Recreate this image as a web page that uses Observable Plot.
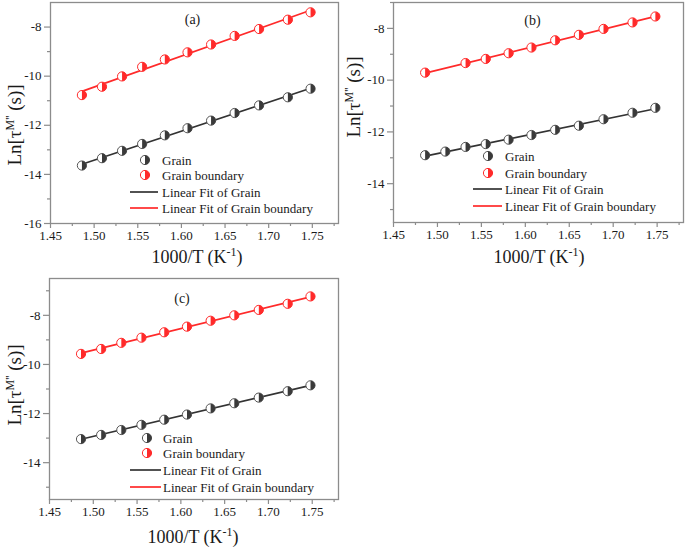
<!DOCTYPE html>
<html><head><meta charset="utf-8">
<script src="https://cdn.jsdelivr.net/npm/d3@7"></script>
<script src="https://cdn.jsdelivr.net/npm/@observablehq/plot@0.6"></script>
<style>
body{margin:0;background:#fff;}
#root{position:relative;width:685px;height:549px;overflow:hidden;background:#fff;font-family:"Liberation Serif","Times New Roman",serif;}
.panel{position:absolute}
.panel text{font-family:"Liberation Serif","Times New Roman",serif !important;}
#overlay{position:absolute;left:0;top:0;pointer-events:none}
</style></head><body><div id="root"></div>
<script>
// ---- data ----
const invT = [1.486, 1.509, 1.532, 1.555, 1.581, 1.607, 1.634, 1.661, 1.689, 1.722, 1.748];
const invT_bGB = [1.486, 1.532, 1.555, 1.581, 1.607, 1.634, 1.661, 1.689, 1.722, 1.748];

const aGrain = [-13.64, -13.34, -13.04, -12.76, -12.41, -12.12, -11.81, -11.50, -11.19, -10.86, -10.51];
const aGB    = [-10.77, -10.43, -10.01, -9.62, -9.32, -9.03, -8.71, -8.36, -8.08, -7.70, -7.40];
const bGrain = [-12.90, -12.76, -12.58, -12.47, -12.30, -12.12, -11.92, -11.76, -11.51, -11.26, -11.07];
const bGB    = [-9.71, -9.34, -9.18, -8.96, -8.74, -8.46, -8.25, -8.02, -7.77, -7.54];
const cGrain = [-13.04, -12.87, -12.67, -12.46, -12.25, -12.04, -11.79, -11.58, -11.35, -11.09, -10.85];
const cGB    = [-9.57, -9.37, -9.12, -8.91, -8.69, -8.46, -8.22, -8.00, -7.78, -7.53, -7.23];

const xMajor = [1.45, 1.50, 1.55, 1.60, 1.65, 1.70, 1.75];
const xMinor = [1.475, 1.525, 1.575, 1.625, 1.675, 1.725, 1.775];
const aYMajor = [-16, -14, -12, -10, -8];
const aYMinor = [-15, -13, -11, -9];
const bcYMajor = [-14, -12, -10, -8];
const bcYMinor = [-15, -13, -11, -9, -7];
const legendLabels = ["Grain", "Grain boundary", "Linear Fit of Grain", "Linear Fit of Grain boundary"];
const panelTags = ["(a)", "(b)", "(c)"];

// ---- styles ----
const GRAY = "#8c8c8c";
const GRAIN_FILL = "#3a3a3a", GRAIN_STROKE = "#555", GRAIN_LINE = "#333";
const RED = "#ff2a2a";
const FONT = "'Liberation Serif', 'Times New Roman', serif";

const rightHalf = {draw(ctx, size){ const r = Math.sqrt(size/Math.PI); ctx.moveTo(0,-r); ctx.arc(0,0,r,-Math.PI/2,Math.PI/2); ctx.closePath(); }};

const root = document.getElementById("root");

function makePanel(cfg){
  const g = cfg.xg.map((x,i)=>({x, y: cfg.grain[i]}));
  const b = cfg.xb.map((x,i)=>({x, y: cfg.gb[i]}));
  const svg = Plot.plot({
    width: cfg.width, height: cfg.height,
    marginLeft: cfg.ml, marginRight: cfg.mr, marginTop: cfg.mt, marginBottom: cfg.mb,
    style: {fontFamily: FONT, fontSize: "13px", color: "#1a1a1a", background: "transparent", overflow: "visible"},
    x: {domain: [1.45, 1.78]},
    y: {domain: cfg.yDomain},
    marks: [
      Plot.axisX({ticks: xMajor, tickFormat: d => d.toFixed(2), tickSize: 5, tickPadding: 2, stroke: GRAY, strokeWidth: 1.2, fill: "#1a1a1a", label: null, fontSize: 13, fontFamily: FONT}),
      Plot.axisX({ticks: xMinor, tickFormat: null, text: null, tickSize: 3, stroke: GRAY, strokeWidth: 1.2, label: null}),
      Plot.axisY({ticks: cfg.yMajor, tickFormat: d => String(d), tickSize: 6, tickPadding: 3, stroke: GRAY, strokeWidth: 1.2, fill: "#1a1a1a", label: null, fontSize: 13, fontFamily: FONT}),
      Plot.axisY({ticks: cfg.yMinor, tickFormat: null, text: null, tickSize: 3, stroke: GRAY, strokeWidth: 1.2, label: null}),
      Plot.frame({stroke: GRAY, strokeWidth: 1.3}),
      Plot.linearRegressionY(g, {x: "x", y: "y", stroke: GRAIN_LINE, strokeWidth: 1.7, ci: 0}),
      Plot.linearRegressionY(b, {x: "x", y: "y", stroke: RED, strokeWidth: 1.7, ci: 0}),
      Plot.dot(g, {x: "x", y: "y", r: 4.6, fill: "white", stroke: GRAIN_STROKE, strokeWidth: 1}),
      Plot.dot(g, {x: "x", y: "y", r: 4.6, symbol: rightHalf, fill: GRAIN_FILL}),
      Plot.dot(b, {x: "x", y: "y", r: 4.6, fill: "white", stroke: RED, strokeWidth: 1}),
      Plot.dot(b, {x: "x", y: "y", r: 4.6, symbol: rightHalf, fill: RED}),
      Plot.text([cfg.tag], {frameAnchor: "top", dx: cfg.tagDx, dy: cfg.tagDy, text: d => d, fontSize: 14, fill: "#1a1a1a", fontFamily: FONT})
    ]
  });
  svg.classList.add("panel");
  svg.style.left = cfg.left + "px";
  svg.style.top = cfg.top + "px";
  svg.style.fontFamily = FONT;
  root.appendChild(svg);
}

makePanel({left:0, top:0, width:340, height:270, ml:50, mr:2, mt:2, mb:47, yDomain:[-16,-7], yMajor:aYMajor, yMinor:aYMinor, xg:invT, grain:aGrain, xb:invT, gb:aGB, tag:panelTags[0], tagDx:-2, tagDy:12});
makePanel({left:340, top:0, width:345, height:270, ml:53, mr:2, mt:2, mb:48, yDomain:[-15.5,-7], yMajor:bcYMajor, yMinor:bcYMinor, xg:invT, grain:bGrain, xb:invT_bGB, gb:bGB, tag:panelTags[1], tagDx:-6, tagDy:13});
makePanel({left:0, top:270, width:340, height:279, ml:49, mr:2, mt:8, mb:50, yDomain:[-15.5,-6.5], yMajor:bcYMajor, yMinor:bcYMinor, xg:invT, grain:cGrain, xb:invT, gb:cGB, tag:panelTags[2], tagDx:-12, tagDy:15});

// ---- overlay: legends and axis titles ----
const ov = d3.select(root).append("svg").attr("id","overlay").attr("width",685).attr("height",549)
  .style("font-family", FONT).style("fill", "#1a1a1a");

function legend(mx, lx1, lx2, tx, ys){
  const r = 4.6;
  [[GRAIN_STROKE, GRAIN_FILL], [RED, RED]].forEach(([st, fl], i) => {
    ov.append("circle").attr("cx", mx).attr("cy", ys[i]).attr("r", r).attr("fill","white").attr("stroke", st);
    ov.append("path").attr("transform", `translate(${mx},${ys[i]})`)
      .attr("d", `M0,${-r}A${r},${r} 0 0 1 0,${r}Z`).attr("fill", fl);
  });
  [GRAIN_LINE, RED].forEach((c, i) => {
    ov.append("line").attr("x1", lx1).attr("x2", lx2).attr("y1", ys[i+2]).attr("y2", ys[i+2]).attr("stroke", c).attr("stroke-width", 1.7);
  });
  legendLabels.forEach((t, i) => {
    ov.append("text").attr("x", tx).attr("y", ys[i]).attr("dy", "0.35em").attr("font-size", 13).text(t);
  });
}
legend(145, 130, 158, 162, [160, 175, 192, 208]);
legend(488, 473, 502, 505, [156, 173, 189, 206]);
legend(147, 130, 161, 163, [438, 453, 470, 487]);

function xTitle(cx, by){
  const t = ov.append("text").attr("x", cx).attr("y", by).attr("text-anchor","middle").attr("font-size", 18);
  t.append("tspan").text("1000/T (K");
  t.append("tspan").attr("font-size", 12).attr("dy", -7).text("-1");
  t.append("tspan").attr("dy", 7).text(")");
}
xTitle(197, 263);
xTitle(539, 263);
xTitle(193, 543);

function yTitle(bx, cy){
  const t = ov.append("text").attr("transform", `translate(${bx},${cy}) rotate(-90)`).attr("text-anchor","middle").attr("font-size", 19);
  t.append("tspan").text("Ln[τ");
  t.append("tspan").attr("font-size", 12).attr("dy", -7).text("M''");
  t.append("tspan").attr("dy", 7).text(" (s)]");
}
yTitle(21, 125);
yTitle(360, 97);
yTitle(21, 385);
</script></body></html>
